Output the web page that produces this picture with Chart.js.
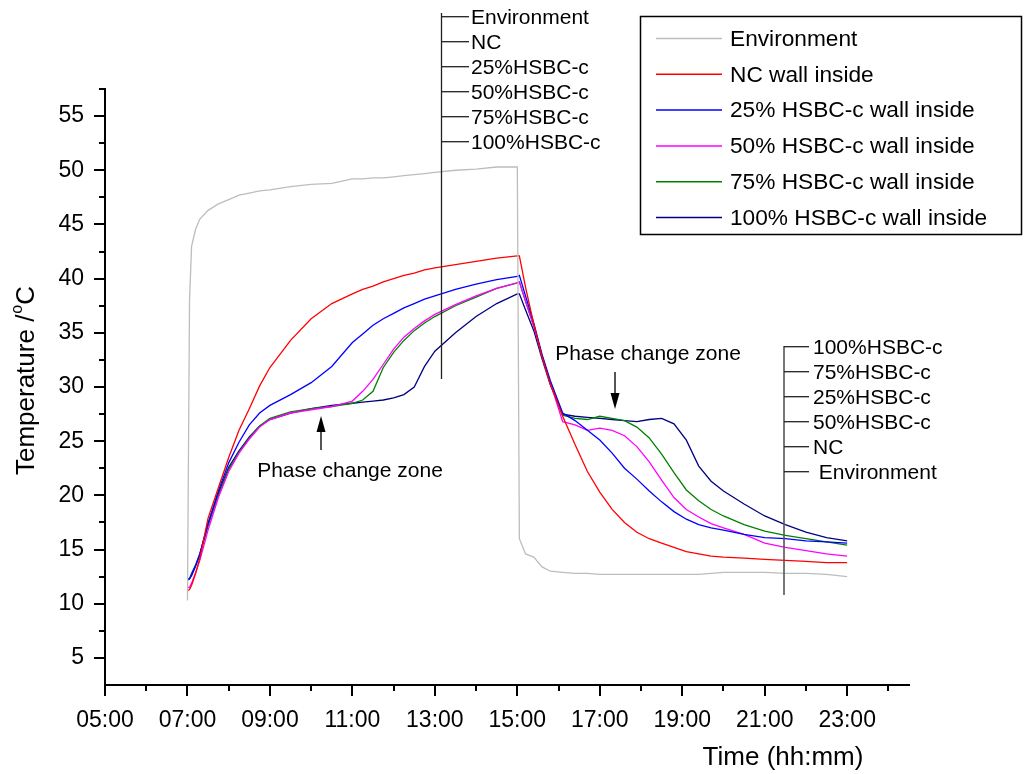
<!DOCTYPE html>
<html>
<head>
<meta charset="utf-8">
<script src="https://cdn.jsdelivr.net/npm/chart.js@4.4.0/dist/chart.umd.min.js"></script>
<style>
  html, body { margin: 0; padding: 0; background: #fff; }
</style>
</head>
<body>
<canvas id="line-canvas" width="1025" height="774"></canvas>
<script>
// time in hours since midnight
var hours = [7.0, 7.05, 7.1, 7.2, 7.3, 7.5, 7.75, 8.0, 8.25, 8.5, 8.75, 9.0, 9.5, 10.0, 10.5,
  11.0, 11.25, 11.5, 11.75, 12.0, 12.25, 12.5, 12.75, 13.0, 13.5, 14.0, 14.5, 15.0, 15.05,
  15.2, 15.4, 15.6, 15.8, 16.1, 16.4, 16.7, 17.0, 17.3, 17.6, 17.9, 18.2, 18.5, 18.8, 19.1,
  19.4, 19.7, 20.0, 20.5, 21.0, 21.5, 22.0, 22.5, 23.0];

var environment = [10.3, 38.0, 43.0, 44.6, 45.5, 46.3, 46.9, 47.3, 47.7, 47.9, 48.1, 48.2, 48.5, 48.7, 48.8,
  49.2, 49.2, 49.3, 49.3, 49.4, 49.5, 49.6, 49.7, 49.8, 50.0, 50.1, 50.3, 50.3, 16.0,
  14.6, 14.3, 13.4, 13.0, 12.9, 12.8, 12.8, 12.7, 12.7, 12.7, 12.7, 12.7, 12.7, 12.7, 12.7,
  12.7, 12.8, 12.9, 12.9, 12.9, 12.8, 12.8, 12.7, 12.5];
var ncWall = [11.2, 11.3, 11.7, 12.8, 14.2, 17.9, 20.7, 23.5, 26.0, 28.0, 30.1, 31.8, 34.3, 36.3, 37.7,
  38.6, 39.0, 39.3, 39.7, 40.0, 40.3, 40.5, 40.8, 41.0, 41.3, 41.6, 41.9, 42.1, 42.1,
  39.2, 35.8, 32.8, 30.3, 27.3, 24.7, 22.2, 20.3, 18.7, 17.5, 16.6, 16.0, 15.6, 15.2, 14.8,
  14.6, 14.4, 14.3, 14.2, 14.1, 14.0, 13.9, 13.8, 13.8];
var hsbc25 = [12.2, 12.3, 12.6, 13.5, 14.6, 17.4, 20.4, 23.0, 24.9, 26.5, 27.6, 28.3, 29.3, 30.4, 31.9,
  34.1, 34.9, 35.7, 36.3, 36.8, 37.3, 37.7, 38.1, 38.4, 39.0, 39.5, 39.9, 40.2, 40.3,
  38.4, 35.9, 33.0, 30.6, 27.6, 26.9, 26.0, 25.1, 23.9, 22.5, 21.5, 20.4, 19.4, 18.5, 17.8,
  17.3, 17.0, 16.8, 16.4, 16.1, 16.0, 15.8, 15.7, 15.6];
var hsbc50 = [11.5, 11.5, 11.9, 12.9, 14.0, 16.8, 19.8, 22.2, 23.9, 25.2, 26.3, 27.0, 27.6, 27.9, 28.2,
  28.7, 29.6, 30.7, 32.1, 33.5, 34.6, 35.4, 36.1, 36.7, 37.6, 38.4, 39.1, 39.6, 39.7,
  37.9, 35.6, 32.9, 30.4, 26.8, 26.5, 26.0, 26.2, 26.0, 25.5, 24.5, 23.1, 21.4, 19.8, 18.7,
  18.0, 17.4, 17.0, 16.4, 15.6, 15.2, 14.9, 14.6, 14.4];
var hsbc75 = [12.2, 12.3, 12.6, 13.5, 14.5, 17.2, 20.0, 22.4, 24.0, 25.3, 26.4, 27.1, 27.7, 28.0, 28.2,
  28.5, 28.8, 29.6, 31.8, 33.2, 34.3, 35.2, 35.9, 36.5, 37.5, 38.3, 39.1, 39.6, 39.7,
  37.9, 35.6, 32.8, 30.4, 27.4, 27.1, 27.0, 27.3, 27.1, 26.9, 26.3, 25.3, 23.8, 22.1, 20.5,
  19.5, 18.7, 18.1, 17.3, 16.7, 16.3, 16.0, 15.7, 15.4];
var hsbc100 = [12.3, 12.3, 12.8, 13.6, 14.6, 17.4, 20.2, 22.6, 24.1, 25.4, 26.4, 27.0, 27.6, 28.0, 28.3,
  28.5, 28.6, 28.7, 28.8, 29.0, 29.3, 30.0, 31.9, 33.3, 35.0, 36.5, 37.7, 38.6, 38.6,
  37.1, 35.2, 32.6, 30.2, 27.5, 27.3, 27.2, 27.1, 27.0, 26.9, 26.8, 27.0, 27.1, 26.6, 25.1,
  22.7, 21.3, 20.4, 19.2, 18.1, 17.3, 16.6, 16.1, 15.8];

var seriesNames = ["Environment", "NC wall inside", "25% HSBC-c wall inside", "50% HSBC-c wall inside",
  "75% HSBC-c wall inside", "100% HSBC-c wall inside"];
var seriesColors = ["#bdbdbd", "#ff0000", "#0000ff", "#ff00ff", "#008000", "#000080"];

var xTicks = [5, 7, 9, 11, 13, 15, 17, 19, 21, 23];
var xMinor = [6, 8, 10, 12, 14, 16, 18, 20, 22, 24];
var yTicks = [5, 10, 15, 20, 25, 30, 35, 40, 45, 50, 55];
var yMinor = [7.5, 12.5, 17.5, 22.5, 27.5, 32.5, 37.5, 42.5, 47.5, 52.5, 57.5];

var topLabels = ["Environment", "NC", "25%HSBC-c", "50%HSBC-c", "75%HSBC-c", "100%HSBC-c"];
var rightLabels = ["100%HSBC-c", "75%HSBC-c", "25%HSBC-c", "50%HSBC-c", "NC", " Environment"];

var FONT = "'Liberation Sans', Arial, sans-serif";

function toPoints(vals) {
  var pts = [];
  for (var i = 0; i < hours.length; i++) {
    pts.push({ x: hours[i], y: vals[i] });
  }
  return pts;
}

var allSeries = [environment, ncWall, hsbc25, hsbc50, hsbc75, hsbc100];
var datasets = [];
for (var s = 0; s < allSeries.length; s++) {
  datasets.push({
    label: seriesNames[s],
    data: toPoints(allSeries[s]),
    borderColor: seriesColors[s],
    backgroundColor: seriesColors[s],
    borderWidth: 1.3,
    pointRadius: 0,
    fill: false,
    tension: 0
  });
}

function line(ctx, x1, y1, x2, y2) {
  ctx.beginPath();
  ctx.moveTo(x1, y1);
  ctx.lineTo(x2, y2);
  ctx.stroke();
}

function arrow(ctx, x, tailY, tipY) {
  var dir = tipY < tailY ? 1 : -1;
  var baseY = tipY + dir * 16;
  ctx.strokeStyle = "#555";
  ctx.lineWidth = 2;
  line(ctx, x, tailY, x, baseY);
  ctx.fillStyle = "#000";
  ctx.beginPath();
  ctx.moveTo(x, tipY);
  ctx.lineTo(x - 4.5, baseY);
  ctx.lineTo(x + 4.5, baseY);
  ctx.closePath();
  ctx.fill();
}

var decor = {
  id: "decor",
  afterDraw: function(chart) {
    var ctx = chart.ctx;
    var xs = chart.scales.x, ys = chart.scales.y;
    ctx.save();

    // minor ticks
    ctx.strokeStyle = "#000";
    ctx.lineWidth = 2;
    xMinor.forEach(function(v) {
      var px = Math.round(xs.getPixelForValue(v));
      line(ctx, px, ys.bottom, px, ys.bottom + 6);
    });
    yMinor.forEach(function(v) {
      var py = Math.round(ys.getPixelForValue(v));
      line(ctx, xs.left - 6, py, xs.left, py);
    });

    // axis titles
    ctx.fillStyle = "#000";
    ctx.textBaseline = "middle";
    ctx.textAlign = "center";
    ctx.font = "26px " + FONT;
    ctx.fillText("Time (hh:mm)", 783, 758);

    ctx.save();
    ctx.translate(27, 381);
    ctx.rotate(-Math.PI / 2);
    ctx.textAlign = "left";
    ctx.font = "26px " + FONT;
    var t1 = "Temperature /";
    var w1 = ctx.measureText(t1).width;
    ctx.font = "16px " + FONT;
    var w2 = ctx.measureText("o").width;
    ctx.font = "26px " + FONT;
    var w3 = ctx.measureText("C").width;
    var x0 = -(w1 + w2 + w3) / 2;
    ctx.fillText(t1, x0, 0);
    ctx.font = "16px " + FONT;
    ctx.fillText("o", x0 + w1 + 1, -9);
    ctx.font = "26px " + FONT;
    ctx.fillText("C", x0 + w1 + w2 + 1, 0);
    ctx.restore();

    // legend box
    ctx.strokeStyle = "#000";
    ctx.lineWidth = 1.5;
    ctx.strokeRect(640.5, 16.5, 381, 218);
    ctx.font = "22.7px " + FONT;
    ctx.textAlign = "left";
    for (var i = 0; i < seriesNames.length; i++) {
      var ly = 38.5 + i * 35.8;
      ctx.strokeStyle = seriesColors[i];
      ctx.lineWidth = 1.5;
      line(ctx, 656, ly, 722, ly);
      ctx.fillStyle = "#000";
      ctx.fillText(seriesNames[i], 730, ly + 1);
    }

    // label bracket at the top
    ctx.strokeStyle = "#222";
    ctx.lineWidth = 1.3;
    line(ctx, 441.5, 13, 441.5, 379);
    ctx.font = "21px " + FONT;
    for (var j = 0; j < topLabels.length; j++) {
      var ty = 16.7 + j * 25;
      line(ctx, 441.5, ty, 469, ty);
      ctx.fillText(topLabels[j], 471, ty + 1.5);
    }

    // label bracket at the right
    ctx.strokeStyle = "#555";
    ctx.lineWidth = 1.6;
    line(ctx, 784, 346, 784, 595);
    ctx.strokeStyle = "#222";
    ctx.lineWidth = 1.3;
    for (var k = 0; k < rightLabels.length; k++) {
      var ry = 346.7 + k * 25;
      line(ctx, 784, ry, 809, ry);
      ctx.fillText(rightLabels[k], 813, ry + 2);
    }

    // phase change notes
    ctx.textAlign = "center";
    ctx.fillText("Phase change zone", 350, 471);
    ctx.fillText("Phase change zone", 648, 354);
    arrow(ctx, 321, 450, 416);
    arrow(ctx, 615, 372, 409);

    ctx.restore();
  }
};

var ctx = document.getElementById("line-canvas");

var options = {
  responsive: false,
  animation: false,
  layout: { padding: { top: 89, right: 116, left: 0, bottom: 0 } },
  plugins: {
    legend: { display: false },
    tooltip: { enabled: false }
  },
  scales: {
    x: {
      type: "linear",
      min: 5,
      max: 24.5,
      afterBuildTicks: function(scale) {
        scale.ticks = xTicks.map(function(v) { return { value: v }; });
      },
      afterFit: function(scale) { scale.height = 89; },
      ticks: {
        autoSkip: false,
        maxRotation: 0,
        padding: 11,
        color: "#000",
        font: { family: FONT, size: 23 },
        callback: function(v) { return (v < 10 ? "0" : "") + v + ":00"; }
      },
      grid: { drawOnChartArea: false, drawTicks: true, tickLength: 11, color: "#000", lineWidth: 2 },
      border: { display: true, color: "#000", width: 2 }
    },
    y: {
      min: 2.5,
      max: 57.5,
      afterBuildTicks: function(scale) {
        scale.ticks = yTicks.map(function(v) { return { value: v }; });
      },
      afterFit: function(scale) { scale.width = 105; },
      ticks: {
        padding: 10,
        color: "#000",
        font: { family: FONT, size: 23 }
      },
      grid: { drawOnChartArea: false, drawTicks: true, tickLength: 11, color: "#000", lineWidth: 2 },
      border: { display: true, color: "#000", width: 2 }
    }
  }
};

var chart = new Chart(ctx, {
  type: "line",
  data: { datasets: datasets },
  options: options,
  plugins: [decor]
});
</script>
</body>
</html>
